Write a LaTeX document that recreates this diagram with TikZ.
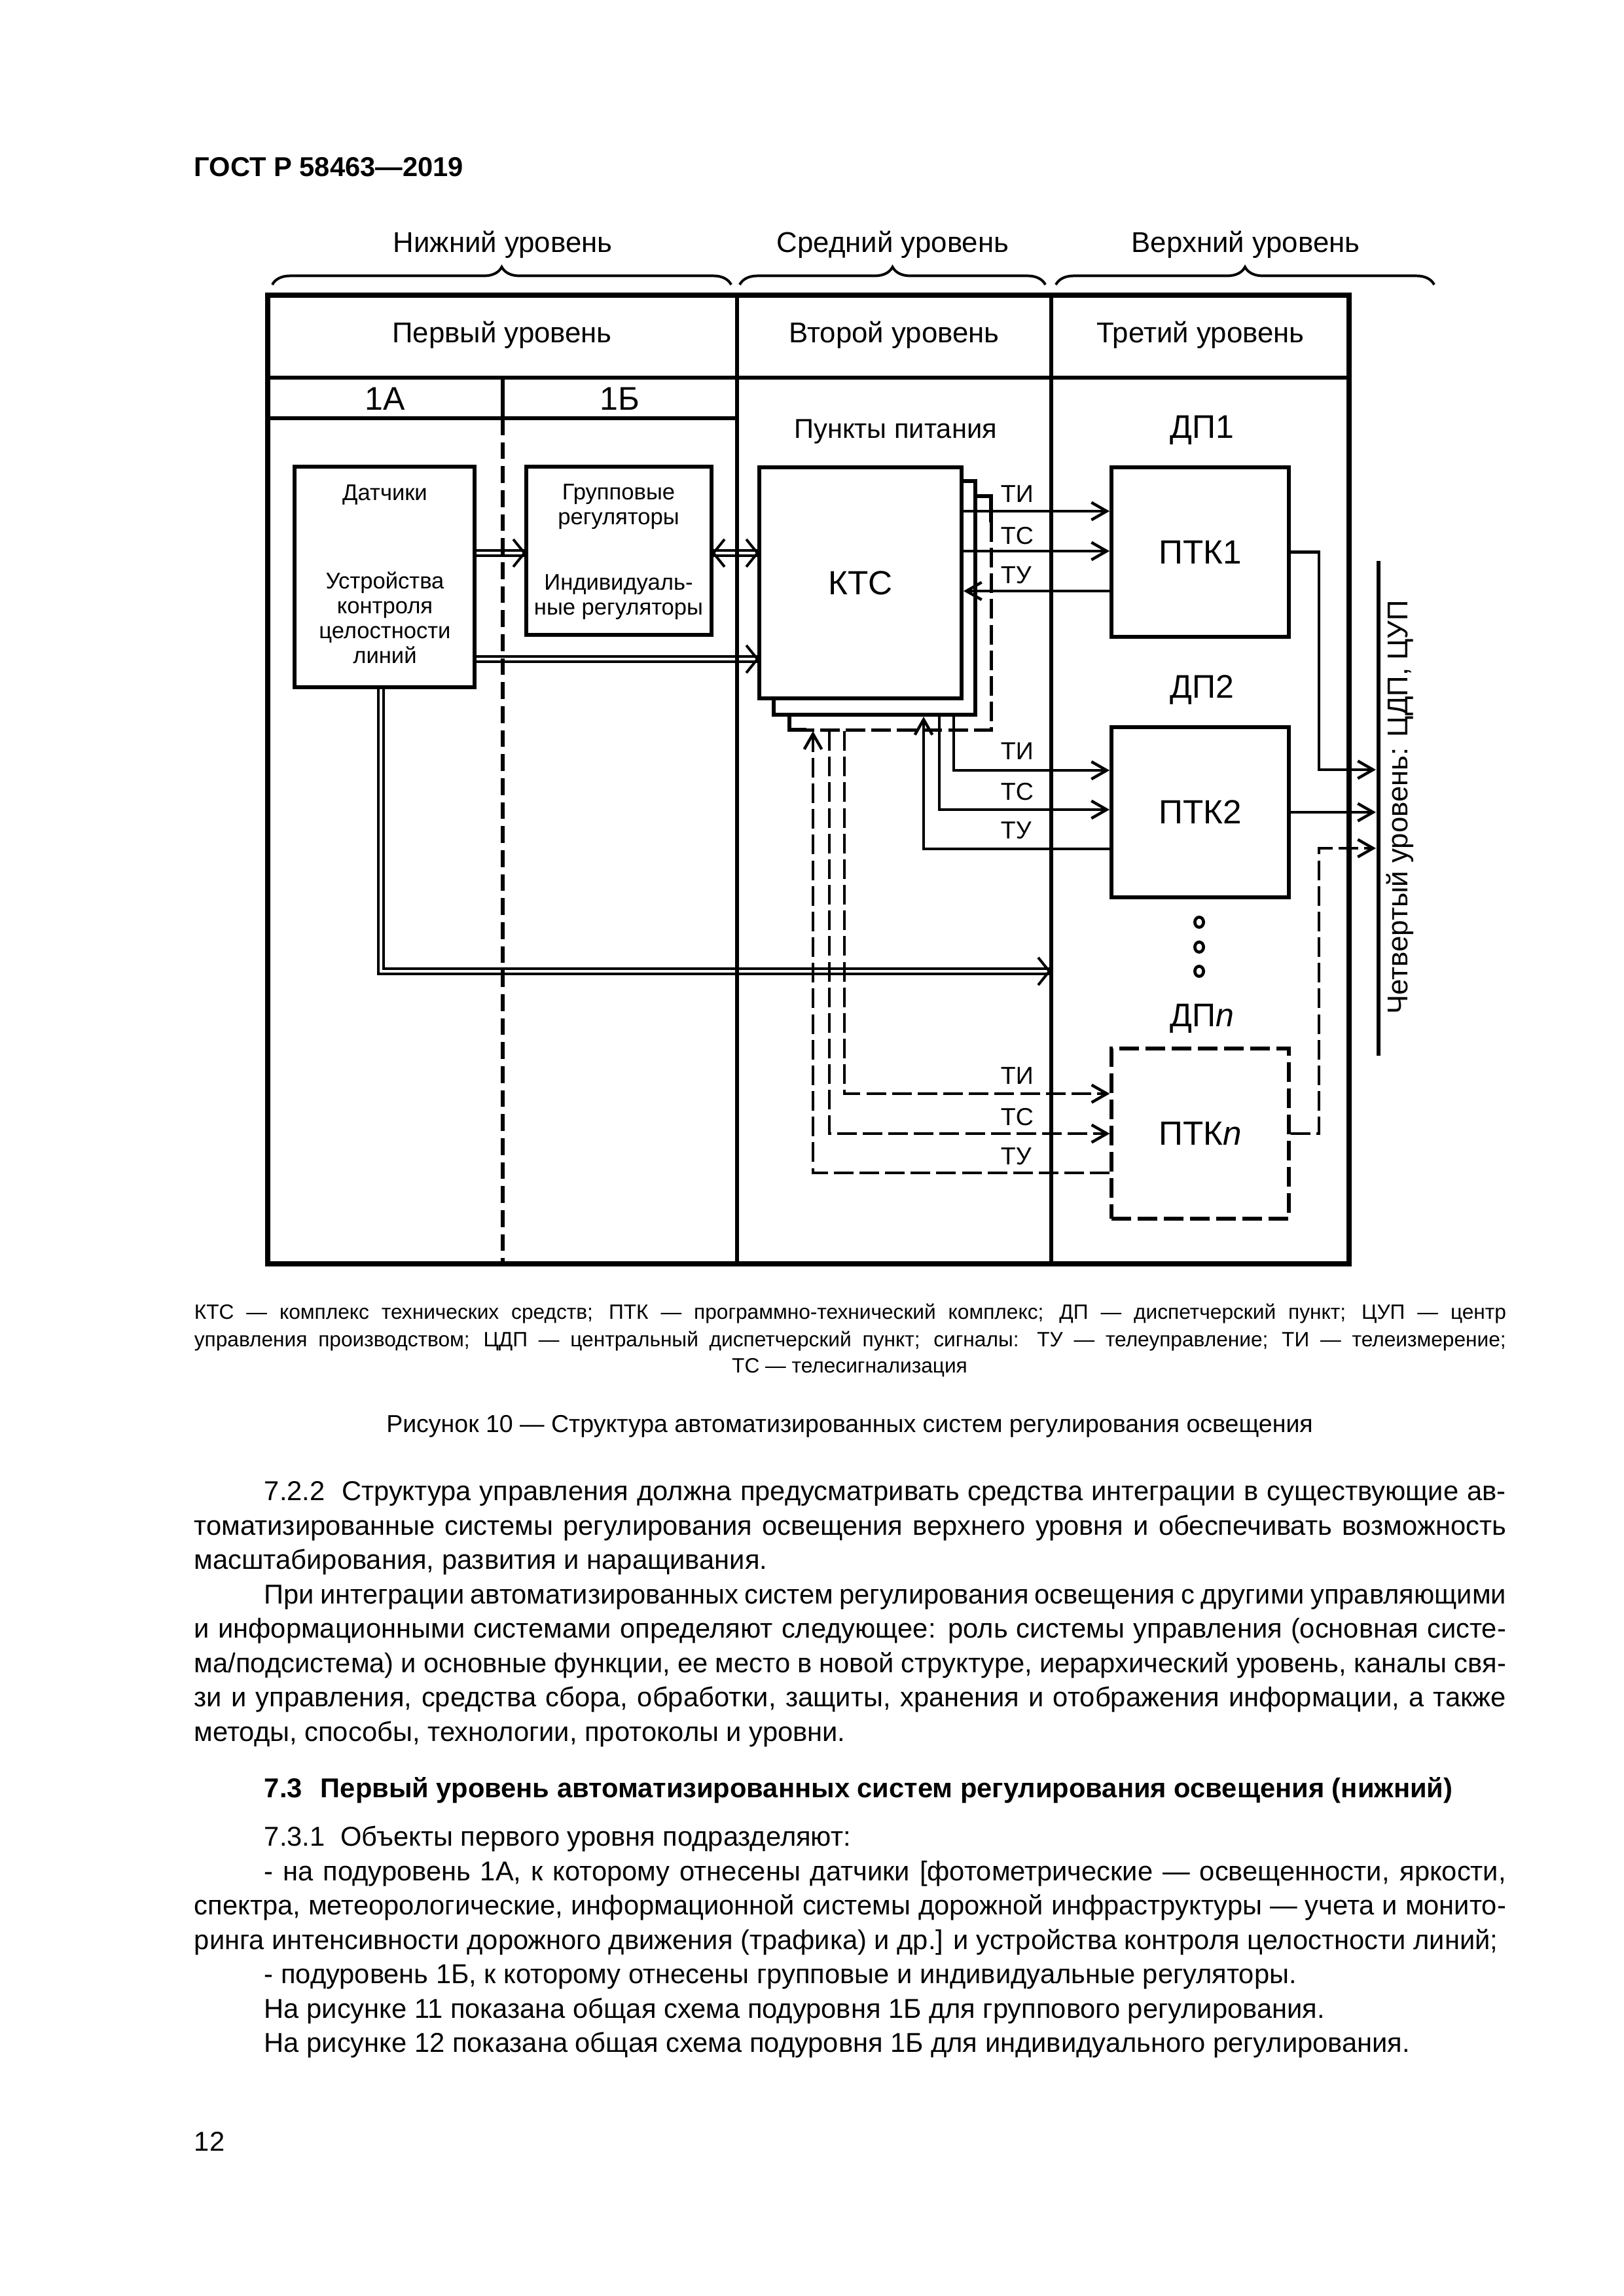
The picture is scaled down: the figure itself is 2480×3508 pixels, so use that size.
\documentclass[tikz,border=0pt]{standalone}
\usepackage{fontspec}
\setmainfont{Liberation Sans}
\usetikzlibrary{calc,arrows.meta,decorations.pathreplacing}
\def\pxu{0.24pt}
\newcommand{\fsz}[1]{\fontsize{#1}{#1}\selectfont}
\newcommand{\jl}[2]{{\spaceskip=0.278em plus 1.5em minus 0.1em\makebox[#1][s]{#2}}}
\newcommand{\dheadR}[1]{\draw[dhd] ($(#1)+(-17,-21)$) -- (#1) -- ($(#1)+(-17,21)$);}
\newcommand{\dheadL}[1]{\draw[dhd] ($(#1)+(17,-21)$) -- (#1) -- ($(#1)+(17,21)$);}
\begin{document}
\begin{tikzpicture}[x=0.24pt,y=-0.24pt,line join=miter,
  frame/.style={line width=1.7pt},
  tbl/.style={line width=1.3pt},
  boxs/.style={draw,line width=1.4pt,fill=white,inner sep=0pt},
  conn/.style={line width=1.05pt},
  dsh/.style={dash pattern=on 7.2pt off 2.2pt},
  sarr/.style={-{Straight Barb[length=5.6pt,width=6.4pt]}},
  dbl/.style={double,double distance=1.1pt,line width=0.95pt},
  dhd/.style={line width=0.95pt},
  lbl/.style={inner sep=0pt,anchor=base},
  txt/.style={inner sep=0pt,anchor=base west}]
\useasboundingbox[fill=white] (0,0) rectangle (2480,3508);

% ---------- boxes ----------
\node[boxs,minimum width=275*\pxu,minimum height=337*\pxu] (dat) at (587.5,881.5) {};
\node[boxs,minimum width=283*\pxu,minimum height=257*\pxu] (grp) at (945.5,841.5) {};
\node[boxs,minimum width=308*\pxu,minimum height=357*\pxu] (kts2) at (1336,913.5) {};
\node[boxs,minimum width=309*\pxu,minimum height=353*\pxu] (kts) at (1314.5,890.5) {\fsz{12.3pt}КТС};
\node[boxs,minimum width=271*\pxu,minimum height=259*\pxu] (ptk1) at (1833.5,843.5) {\fsz{12.3pt}ПТК1};
\node[boxs,minimum width=271*\pxu,minimum height=260*\pxu] (ptk2) at (1833.5,1241) {\fsz{12.3pt}ПТК2};
\node[boxs,line width=1.25pt,dash pattern=on 7.2pt off 2.4pt,minimum width=271*\pxu,minimum height=260*\pxu] (ptkn) at (1833.5,1732) {\fsz{12.3pt}ПТК\textit{n}};

% third (partly dashed) KTS layer
\coordinate (k3ne) at (1514,758);
\coordinate (k3sw) at (1206,1115);
\draw[line width=1.3pt] (kts2.east |- k3ne) -- (k3ne) -- ($(k3ne)+(0,40)$);
\draw[line width=1.2pt,dsh] ($(k3ne)+(0,40)$) -- (k3ne |- k3sw) -- ($(k3sw)+(26,0)$);
\draw[line width=1.3pt] ($(k3sw)+(26,0)$) -- (k3sw) -- (k3sw |- kts2.south);

% ---------- double connectors ----------
\coordinate (ya) at (0,845);
\coordinate (yc) at (0,1007);
\coordinate (xd) at (582,0);
\coordinate (dend) at (1603,1484);
\draw[dbl] (dat.east |- ya) -- (grp.west |- ya);
\draw[dbl] (grp.east |- ya) -- (kts.west |- ya);
\draw[dbl] (dat.east |- yc) -- (kts.west |- yc);
\draw[dbl] (dat.south -| xd) |- (dend);
\coordinate (ha) at (grp.west |- ya);
\coordinate (hb1) at (grp.east |- ya);
\coordinate (hb2) at (kts.west |- ya);
\coordinate (hc) at (kts.west |- yc);
\dheadR{ha}
\dheadL{hb1}
\dheadR{hb2}
\dheadR{hc}
\dheadR{dend}

% ---------- table ----------
\draw[frame] (409,451) rectangle (2061,1931);
\draw[tbl] (409,577) -- (2061,577);
\draw[tbl] (409,639) -- (1126,639);
\draw[tbl] (1126,451) -- (1126,1931);
\draw[tbl] (1606,451) -- (1606,1931);
\draw[tbl] (768,577) -- (768,639);
\draw[tbl,dash pattern=on 6.2pt off 2.6pt] (768,639) -- (768,1931);

% braces
\draw[line width=0.95pt,decorate,decoration={brace,amplitude=6.5pt}] (416,435) -- (1117,435);
\draw[line width=0.95pt,decorate,decoration={brace,amplitude=6.5pt}] (1130,435) -- (1597,435);
\draw[line width=0.95pt,decorate,decoration={brace,amplitude=6.5pt}] (1613,435) -- (2191,435);

% ---------- KTS <-> PTK1 ----------
\draw[conn,sarr] (kts.east |- 0,781) -- (ptk1.west |- 0,781);
\draw[conn,sarr] (kts.east |- 0,842) -- (ptk1.west |- 0,842);
\draw[conn,sarr] (ptk1.west |- 0,903) -- (kts.east |- 0,903);

% ---------- KTS <-> PTK2 ----------
\draw[conn,sarr] (kts2.south -| 1457,0) |- (ptk2.west |- 0,1177);
\draw[conn,sarr] (kts2.south -| 1435,0) |- (ptk2.west |- 0,1237);
\draw[conn,sarr] (ptk2.west |- 0,1297) -| (kts2.south -| 1411,0);

% ---------- KTS <-> PTKn (dashed) ----------
\coordinate (k3b) at (0,1117);
\draw[conn,dsh,sarr] (k3b -| 1290,0) |- (ptkn.west |- 0,1671);
\draw[conn,dsh,sarr] (k3b -| 1267,0) |- (ptkn.west |- 0,1732);
\draw[conn,dsh,sarr] (ptkn.west |- 0,1792) -| (k3b -| 1242,0);

% ---------- fourth level ----------
\coordinate (b4t) at (2106,857);
\coordinate (b4b) at (2106,1613);
\coordinate (b4x) at (2102,0);
\draw[line width=1.6pt] (b4t) -- (b4b);
\draw[conn,sarr] (ptk1.east) -| (2015,1176) -- (b4x |- 0,1176);
\draw[conn,sarr] (ptk2.east) -- (ptk2.east -| b4x);
\draw[conn,dsh,sarr] (ptkn.east) -| (2015,1296) -- (b4x |- 0,1296);
\node[lbl,rotate=90] (four) at (2150,1233) {\fsz{10.5pt}Четвертый уровень: ЦДП, ЦУП};

% dots
\foreach \yy in {1409,1447,1484} \draw[line width=1.1pt] (1832,\yy) ellipse [x radius=1.6pt, y radius=1.85pt];

% ---------- labels ----------
\node[lbl] (lvl1) at (768,386) {\fsz{10.5pt}Нижний уровень};
\node[lbl] (lvl2) at (1364,386) {\fsz{10.5pt}Средний уровень};
\node[lbl] (lvl3) at (1903,386) {\fsz{10.5pt}Верхний уровень};
\node[lbl] (hd1) at (767,524) {\fsz{10.5pt}Первый уровень};
\node[lbl] (hd2) at (1366,524) {\fsz{10.5pt}Второй уровень};
\node[lbl] (hd3) at (1834,524) {\fsz{10.5pt}Третий уровень};
\node[lbl] (s1a) at (588,627) {\fsz{12pt}1А};
\node[lbl] (s1b) at (947,627) {\fsz{12pt}1Б};
\node[lbl] (pp) at (1368,670) {\fsz{10pt}Пункты питания};
\node[lbl] (dp1) at (1836,670) {\fsz{12pt}ДП1};
\node[lbl] (dp2) at (1836,1066) {\fsz{12pt}ДП2};
\node[lbl] (dpn) at (1836,1568) {\fsz{12pt}ДП\textit{n}};

\node[lbl] (d1) at (588,765) {\fsz{8.3pt}Датчики};
\node[lbl] (d2) at (588,899) {\fsz{8.3pt}Устройства};
\node[lbl] (d3) at (588,937) {\fsz{8.3pt}контроля};
\node[lbl] (d4) at (588,976) {\fsz{8.3pt}целостности};
\node[lbl] (d5) at (588,1014) {\fsz{8.3pt}линий};
\node[lbl] (g1) at (945,764) {\fsz{8.3pt}Групповые};
\node[lbl] (g2) at (945,802) {\fsz{8.3pt}регуляторы};
\node[lbl] (g3) at (945,902) {\fsz{8.3pt}Индивидуаль-};
\node[lbl] (g4) at (945,940) {\fsz{8.3pt}ные регуляторы};

\node[txt] (ti1) at (1528,768) {\fsz{9pt}ТИ};
\node[txt] (tc1) at (1528,832) {\fsz{9pt}ТС};
\node[txt] (tu1) at (1528,892) {\fsz{9pt}ТУ};
\node[txt] (ti2) at (1528,1160) {\fsz{9pt}ТИ};
\node[txt] (tc2) at (1528,1222) {\fsz{9pt}ТС};
\node[txt] (tu2) at (1528,1281) {\fsz{9pt}ТУ};
\node[txt] (tin) at (1528,1656) {\fsz{9pt}ТИ};
\node[txt] (tcn) at (1528,1719) {\fsz{9pt}ТС};
\node[txt] (tun) at (1528,1779) {\fsz{9pt}ТУ};

% ---------- page text ----------
\node[txt] (hdr) at (296,270) {\fsz{10pt}\bfseries ГОСТ Р 58463—2019};

\node[txt] (n1) at (296,2015) {\fsz{7.6pt}\jl{480.96pt}{КТС — комплекс технических средств; ПТК — программно-технический комплекс; ДП — диспетчерский пункт; ЦУП — центр}};
\node[txt] (n2) at (296,2057) {\fsz{7.6pt}\jl{480.96pt}{управления производством; ЦДП — центральный диспетчерский пункт; сигналы: ТУ — телеуправление; ТИ — телеизмерение;}};
\node[lbl] (n3) at (1298,2097) {\fsz{7.6pt}ТС — телесигнализация};
\node[lbl] (cap) at (1298,2188) {\fsz{9pt}Рисунок 10 — Структура автоматизированных систем регулирования освещения};

\node[txt] (p1) at (403,2292) {\fsz{10pt}\jl{455.28pt}{7.2.2\hspace{0.3em} Структура управления должна предусматривать средства интеграции в существующие ав-}};
\node[txt] (p2) at (296,2345) {\fsz{10pt}\jl{480.96pt}{томатизированные системы регулирования освещения верхнего уровня и обеспечивать возможность}};
\node[txt] (p3) at (296,2397) {\fsz{10pt}масштабирования, развития и наращивания.};
\node[txt] (p4) at (403,2450) {\fsz{10pt}\jl{455.28pt}{При интеграции автоматизированных систем регулирования освещения с другими управляющими}};
\node[txt] (p5) at (296,2502) {\fsz{10pt}\jl{480.96pt}{и информационными системами определяют следующее: роль системы управления (основная систе-}};
\node[txt] (p6) at (296,2555) {\fsz{10pt}\jl{480.96pt}{ма/подсистема) и основные функции, ее место в новой структуре, иерархический уровень, каналы свя-}};
\node[txt] (p7) at (296,2607) {\fsz{10pt}\jl{480.96pt}{зи и управления, средства сбора, обработки, защиты, хранения и отображения информации, а также}};
\node[txt] (p8) at (296,2660) {\fsz{10pt}методы, способы, технологии, протоколы и уровни.};
\node[txt] (h73) at (403,2746) {\fsz{10pt}\bfseries 7.3\hspace{0.4em} Первый уровень автоматизированных систем регулирования освещения (нижний)};
\node[txt] (p9) at (403,2820) {\fsz{10pt}7.3.1\hspace{0.3em} Объекты первого уровня подразделяют:};
\node[txt] (p10) at (403,2873) {\fsz{10pt}\jl{455.28pt}{- на подуровень 1А, к которому отнесены датчики [фотометрические — освещенности, яркости,}};
\node[txt] (p11) at (296,2925) {\fsz{10pt}\jl{480.96pt}{спектра, метеорологические, информационной системы дорожной инфраструктуры — учета и монито-}};
\node[txt] (p12) at (296,2978) {\fsz{10pt}ринга интенсивности дорожного движения (трафика) и др.] и устройства контроля целостности линий;};
\node[txt] (p13) at (403,3030) {\fsz{10pt}- подуровень 1Б, к которому отнесены групповые и индивидуальные регуляторы.};
\node[txt] (p14) at (403,3083) {\fsz{10pt}На рисунке 11 показана общая схема подуровня 1Б для группового регулирования.};
\node[txt] (p15) at (403,3135) {\fsz{10pt}На рисунке 12 показана общая схема подуровня 1Б для индивидуального регулирования.};
\node[txt] (pg) at (296,3286) {\fsz{10pt}12};
\end{tikzpicture}
\end{document}
